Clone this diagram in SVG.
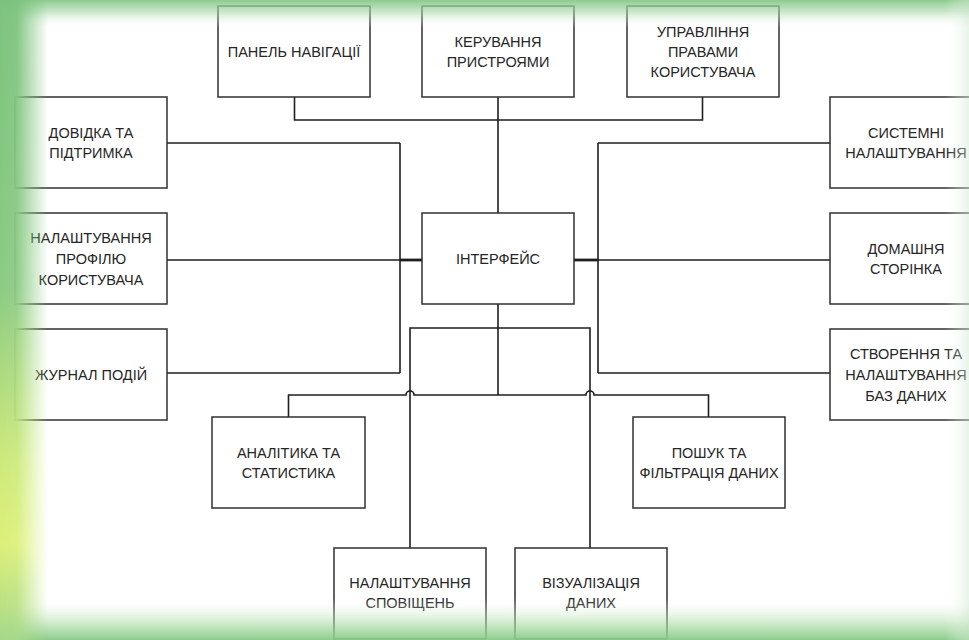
<svg xmlns="http://www.w3.org/2000/svg" width="969" height="640" viewBox="0 0 969 640">
  <style>
    .box { fill: #ffffff; stroke: #303030; stroke-width: 1.5; }
    .lbl { font-family: "Liberation Sans", Arial, sans-serif; font-size: 14.5px; fill: #262626; text-anchor: middle; }
    .wire { fill: none; stroke: #1e1e1e; stroke-width: 1.6; }
    .wire-thick { fill: none; stroke: #1e1e1e; stroke-width: 2.8; }
  </style>
  <defs>
    <!-- soft green frame around the page -->
    <linearGradient id="leftTint" x1="0" y1="0" x2="0" y2="1">
      <stop offset="0" stop-color="#7cc37e"/>
      <stop offset="0.45" stop-color="#8ccb84"/>
      <stop offset="0.72" stop-color="#cdea7c"/>
      <stop offset="0.85" stop-color="#dcf07a"/>
      <stop offset="1" stop-color="#a6d88a"/>
    </linearGradient>
    <linearGradient id="leftFade" x1="0" y1="0" x2="1" y2="0">
      <stop offset="0" stop-color="#fff" stop-opacity="1"/>
      <stop offset="0.35" stop-color="#fff" stop-opacity="0.95"/>
      <stop offset="1" stop-color="#fff" stop-opacity="0"/>
    </linearGradient>
    <mask id="leftMask">
      <rect x="0" y="0" width="48" height="640" fill="url(#leftFade)"/>
    </mask>
    <linearGradient id="topFade" x1="0" y1="0" x2="0" y2="1">
      <stop offset="0" stop-color="#86c888" stop-opacity="0.95"/>
      <stop offset="0.4" stop-color="#9fd49f" stop-opacity="0.6"/>
      <stop offset="1" stop-color="#ffffff" stop-opacity="0"/>
    </linearGradient>
    <linearGradient id="bottomFade" x1="0" y1="1" x2="0" y2="0">
      <stop offset="0" stop-color="#86c986" stop-opacity="0.95"/>
      <stop offset="0.35" stop-color="#a6daa2" stop-opacity="0.65"/>
      <stop offset="1" stop-color="#ffffff" stop-opacity="0"/>
    </linearGradient>
    <linearGradient id="rightFade" x1="1" y1="0" x2="0" y2="0">
      <stop offset="0" stop-color="#cfe9cf" stop-opacity="0.5"/>
      <stop offset="1" stop-color="#ffffff" stop-opacity="0"/>
    </linearGradient>
  </defs>

  <rect x="0" y="0" width="969" height="640" fill="#ffffff"/>

  <!-- connectors -->
  <g id="connectors">
    <!-- top branch -->
    <path class="wire" d="M294.5 97 V120 H702.5 V97"/>
    <path class="wire" d="M498 97 V213"/>
    <!-- left bus -->
    <path class="wire" d="M167 143 H400 M167 373 H400 M167 260 H400 M400 143 V373"/>
    <path class="wire-thick" d="M400 260 H422"/>
    <!-- right bus -->
    <path class="wire" d="M830 143 H598 M830 373 H598 M830 260 H598 M598 143 V373"/>
    <path class="wire-thick" d="M574 260 H598"/>
    <!-- bottom branch -->
    <path class="wire" d="M498 304 V395"/>
    <path class="wire" d="M410 548 V328 H590 V548"/>
    <path class="wire" d="M288.5 417 V395 H406 a4 4 0 0 1 8 0 H586 a4 4 0 0 1 8 0 H708.5 V417"/>
  </g>

  <!-- nodes -->
  <g id="node-nav">
    <rect class="box" x="218" y="6" width="152" height="91"/>
    <text class="lbl" x="294" y="57">ПАНЕЛЬ НАВІГАЦІЇ</text>
  </g>
  <g id="node-devices">
    <rect class="box" x="422" y="6" width="152" height="91"/>
    <text class="lbl" x="498" y="47">КЕРУВАННЯ</text>
    <text class="lbl" x="498" y="67">ПРИСТРОЯМИ</text>
  </g>
  <g id="node-rights">
    <rect class="box" x="627" y="6" width="152" height="91"/>
    <text class="lbl" x="703" y="37">УПРАВЛІННЯ</text>
    <text class="lbl" x="703" y="57">ПРАВАМИ</text>
    <text class="lbl" x="703" y="77">КОРИСТУВАЧА</text>
  </g>

  <g id="node-help">
    <rect class="box" x="15" y="97" width="152" height="91"/>
    <text class="lbl" x="91" y="138">ДОВІДКА ТА</text>
    <text class="lbl" x="91" y="158">ПІДТРИМКА</text>
  </g>
  <g id="node-profile">
    <rect class="box" x="15" y="213" width="152" height="91"/>
    <text class="lbl" x="91" y="243">НАЛАШТУВАННЯ</text>
    <text class="lbl" x="91" y="264">ПРОФІЛЮ</text>
    <text class="lbl" x="91" y="285">КОРИСТУВАЧА</text>
  </g>
  <g id="node-log">
    <rect class="box" x="15" y="329" width="152" height="91"/>
    <text class="lbl" x="91" y="380">ЖУРНАЛ ПОДІЙ</text>
  </g>

  <g id="node-interface">
    <rect class="box" x="422" y="213" width="152" height="91"/>
    <text class="lbl" x="498" y="264">ІНТЕРФЕЙС</text>
  </g>

  <g id="node-system">
    <rect class="box" x="830" y="97" width="152" height="91"/>
    <text class="lbl" x="906" y="138">СИСТЕМНІ</text>
    <text class="lbl" x="906" y="158">НАЛАШТУВАННЯ</text>
  </g>
  <g id="node-home">
    <rect class="box" x="830" y="213" width="152" height="91"/>
    <text class="lbl" x="906" y="254">ДОМАШНЯ</text>
    <text class="lbl" x="906" y="274">СТОРІНКА</text>
  </g>
  <g id="node-db">
    <rect class="box" x="830" y="329" width="152" height="91"/>
    <text class="lbl" x="906" y="359">СТВОРЕННЯ ТА</text>
    <text class="lbl" x="906" y="380">НАЛАШТУВАННЯ</text>
    <text class="lbl" x="906" y="401">БАЗ ДАНИХ</text>
  </g>

  <g id="node-analytics">
    <rect class="box" x="212" y="417" width="153" height="91"/>
    <text class="lbl" x="288.5" y="458">АНАЛІТИКА ТА</text>
    <text class="lbl" x="288.5" y="478">СТАТИСТИКА</text>
  </g>
  <g id="node-search">
    <rect class="box" x="633" y="417" width="152" height="91"/>
    <text class="lbl" x="709" y="458">ПОШУК ТА</text>
    <text class="lbl" x="709" y="478">ФІЛЬТРАЦІЯ ДАНИХ</text>
  </g>
  <g id="node-notify">
    <rect class="box" x="334" y="548" width="152" height="91"/>
    <text class="lbl" x="410" y="588">НАЛАШТУВАННЯ</text>
    <text class="lbl" x="410" y="608">СПОВІЩЕНЬ</text>
  </g>
  <g id="node-visual">
    <rect class="box" x="515" y="548" width="152" height="91"/>
    <text class="lbl" x="591" y="588">ВІЗУАЛІЗАЦІЯ</text>
    <text class="lbl" x="591" y="608">ДАНИХ</text>
  </g>

  <!-- page frame glow, laid over the edges -->
  <g id="frame">
    <rect x="0" y="0" width="969" height="28" fill="url(#topFade)"/>
    <rect x="0" y="598" width="969" height="42" fill="url(#bottomFade)"/>
    <rect x="945" y="0" width="24" height="640" fill="url(#rightFade)"/>
    <rect x="0" y="0" width="48" height="640" fill="url(#leftTint)" mask="url(#leftMask)"/>
  </g>
</svg>
